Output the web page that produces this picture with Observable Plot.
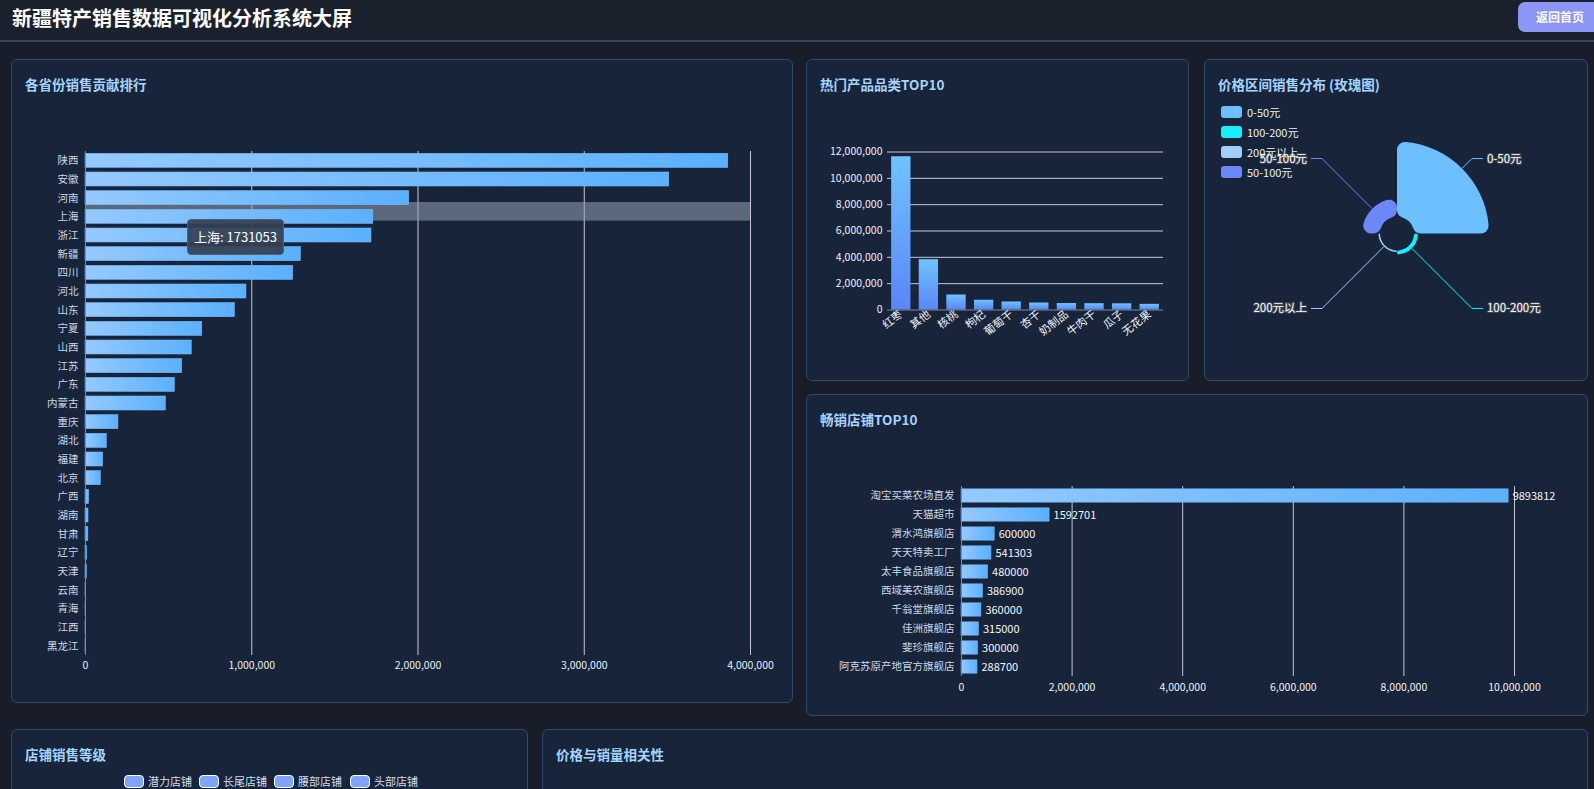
<!DOCTYPE html>
<html>
<head>
<meta charset="utf-8">
<script src="https://cdn.jsdelivr.net/npm/d3@7"></script>
<script src="https://cdn.jsdelivr.net/npm/@observablehq/plot@0.6"></script>
<style>
html,body{margin:0;padding:0;width:1594px;height:789px;overflow:hidden;background:#181d29;font-family:"Noto Sans CJK SC","Noto Sans",sans-serif;}
.header{position:absolute;left:0;top:0;width:1594px;height:40px;background:#1b202d;border-bottom:2px solid #34445a;}
.title{position:absolute;left:12px;top:4px;font-size:20px;font-weight:700;color:#fff;line-height:28px;white-space:nowrap;}
.btn{position:absolute;left:1518px;top:2px;width:90px;height:30px;border-radius:7px;background:#8d96f7;color:#fff;font-size:12px;font-weight:700;line-height:30px;padding-left:18px;box-sizing:border-box;}
.panel{position:absolute;background:#18243a;border:1px solid #35496a;border-radius:6px;box-sizing:border-box;}
.ptitle{position:absolute;left:13px;top:14px;font-size:13.5px;font-weight:700;color:#a6d4ff;line-height:20px;white-space:nowrap;}
.chart{position:absolute;}
.chart svg{display:block;overflow:visible;}
.leg{position:absolute;display:flex;align-items:center;font-size:11px;color:#eef3f8;white-space:nowrap;}
.leg i{display:inline-block;width:21px;height:12px;border-radius:3px;margin-right:5px;}
.leg2{position:absolute;display:flex;align-items:center;font-size:11px;color:#d2deec;white-space:nowrap;}
.leg2 i{display:inline-block;width:18px;height:11px;border-radius:4px;margin-right:4px;background:#7ea5fb;border:1.5px solid #fff;}
.tip{position:absolute;background:rgba(52,64,82,0.92);border:1px solid #4f5f76;border-radius:4px;color:#fff;font-size:13px;text-align:center;box-sizing:border-box;}
</style>
</head>
<body>
<div class="header"><div class="title">新疆特产销售数据可视化分析系统大屏</div><div class="btn">返回首页</div></div>

<div class="panel" style="left:11px;top:59px;width:782px;height:644px;"><div class="ptitle">各省份销售贡献排行</div></div>
<div class="panel" style="left:806px;top:59px;width:383px;height:322px;"><div class="ptitle">热门产品品类TOP10</div></div>
<div class="panel" style="left:1204px;top:59px;width:384px;height:322px;"><div class="ptitle">价格区间销售分布 (玫瑰图)</div></div>
<div class="panel" style="left:806px;top:394px;width:782px;height:322px;"><div class="ptitle">畅销店铺TOP10</div></div>
<div class="panel" style="left:11px;top:729px;width:517px;height:120px;"><div class="ptitle">店铺销售等级</div></div>
<div class="panel" style="left:542px;top:729px;width:1046px;height:120px;"><div class="ptitle">价格与销量相关性</div></div>

<div id="c1" class="chart" style="left:12px;top:140px;"></div>
<div id="c2" class="chart" style="left:806px;top:130px;"></div>
<div id="c3" class="chart" style="left:1204px;top:95px;"></div>
<div id="c4" class="chart" style="left:806px;top:470px;"></div>
<div id="leg3"></div>
<div id="leg5"></div>
<div id="tip"></div>

<script>
// ---------- data ----------
const provinces = ["陕西","安徽","河南","上海","浙江","新疆","四川","河北","山东","宁夏","山西","江苏","广东","内蒙古","重庆","湖北","福建","北京","广西","湖南","甘肃","辽宁","天津","云南","青海","江西","黑龙江"];
const provinceSales = [3866000,3511000,1947000,1731053,1720000,1295000,1249000,968000,898000,702000,639000,581000,537000,483000,198000,128000,106000,92000,22000,18000,17000,10000,8000,4000,1500,800,400];
const provinceTicks = [0,1000000,2000000,3000000,4000000];
const tooltipProvince = "上海";

const products = ["红枣","其他","核桃","枸杞","葡萄干","杏干","奶制品","牛肉干","瓜子","无花果"];
const productSales = [11640000,3820000,1140000,740000,610000,530000,490000,480000,470000,430000];
const productTicks = [0,2000000,4000000,6000000,8000000,10000000,12000000];

const priceRanges = ["0-50元","100-200元","200元以上","50-100元"];
const priceSales = [15600000,830000,310000,3740000];
const priceColors = ["#6cc0ff","#19ecfb","#a2cdff","#6b88f6"];

const stores = ["淘宝买菜农场直发","天猫超市","渭水鸿旗舰店","天天特卖工厂","太丰食品旗舰店","西域美农旗舰店","千翁堂旗舰店","佳洲旗舰店","斐珍旗舰店","阿克苏原产地官方旗舰店"];
const storeSales = [9893812,1592701,600000,541303,480000,386900,360000,315000,300000,288700];
const storeTicks = [0,2000000,4000000,6000000,8000000,10000000];

const storeLevels = ["潜力店铺","长尾店铺","腰部店铺","头部店铺"];

// ---------- helpers ----------
const FONT = '"Noto Sans CJK SC","Noto Sans",sans-serif';
const fmt = d3.format(",");
function gradient(id, horizontal, stops) {
  return () => {
    const ns = "http://www.w3.org/2000/svg";
    const defs = document.createElementNS(ns, "defs");
    const g = document.createElementNS(ns, "linearGradient");
    g.setAttribute("id", id);
    g.setAttribute("x1", "0"); g.setAttribute("y1", "0");
    g.setAttribute("x2", horizontal ? "1" : "0"); g.setAttribute("y2", horizontal ? "0" : "1");
    stops.forEach(([o, c]) => {
      const s = document.createElementNS(ns, "stop");
      s.setAttribute("offset", o); s.setAttribute("stop-color", c);
      g.appendChild(s);
    });
    defs.appendChild(g);
    return defs;
  };
}

// ---------- chart 1: provinces ----------
const provinceData = provinces.map((p, i) => ({name: p, value: provinceSales[i]}));
const hl = provinceData.filter(d => d.name === tooltipProvince);
document.getElementById("c1").appendChild(Plot.plot({
  width: 780, height: 550,
  marginLeft: 73, marginRight: 42, marginTop: 11, marginBottom: 35,
  style: {background: "transparent", color: "#cad8e8", fontSize: "10.5px", fontFamily: FONT},
  x: {domain: [0, 4000000], label: null},
  y: {domain: provinces, paddingInner: 0.25, paddingOuter: 0.125, round: false, label: null},
  marks: [
    gradient("gH1", true, [["0%", "#95c9ff"], ["100%", "#5bb0ff"]]),
    Plot.gridX(provinceTicks.slice(1), {stroke: "#d3dce7", strokeOpacity: 0.9}),
    Plot.barX(hl, {y: "name", x1: 0, x2: 4000000, fill: "#96a3b3", fillOpacity: 0.55, insetTop: -2.3, insetBottom: -2.3, dy: -5}),
    Plot.barX(provinceData, {y: "name", x: "value", fill: "url(#gH1)", stroke: "#74b9ff", strokeWidth: 0.6}),
    Plot.ruleX([0], {stroke: "#7d8b9d"}),
    Plot.axisY({tickSize: 0, tickPadding: 7, fill: "#cad8e8", label: null}),
    Plot.axisX(provinceTicks, {tickSize: 0, tickPadding: 6, tickFormat: fmt, fill: "#e8eef5", label: null})
  ]
}));
const tipD = hl[0];
const tip = document.getElementById("tip");
tip.className = "tip";
tip.style.cssText = "left:187px;top:219px;width:97px;height:36px;line-height:34px;";
tip.textContent = `${tipD.name}: ${tipD.value}`;

// ---------- chart 2: products ----------
const productData = products.map((p, i) => ({name: p, value: productSales[i]}));
document.getElementById("c2").appendChild(Plot.plot({
  width: 383, height: 220,
  marginLeft: 81, marginRight: 26, marginTop: 21.5, marginBottom: 40.5,
  style: {background: "transparent", color: "#e8eef5", fontSize: "10.5px", fontFamily: FONT},
  x: {domain: products, paddingInner: 0.3, paddingOuter: 0.15, round: false, label: null},
  y: {domain: [0, 12000000], label: null},
  marks: [
    gradient("gV2", false, [["0%", "#6fc3ff"], ["100%", "#5a86f6"]]),
    Plot.gridY(productTicks.slice(1), {stroke: "#d3dce7", strokeOpacity: 0.9}),
    Plot.barY(productData, {x: "name", y: "value", fill: "url(#gV2)"}),
    Plot.ruleY([0], {stroke: "#7d8b9d"}),
    Plot.axisY(productTicks, {tickSize: 0, tickPadding: 5, tickFormat: fmt, fill: "#eef3f8", label: null}),
    Plot.axisX({tickSize: 0, tickPadding: 3, tickRotate: -38, fill: "#eef3f8", fontSize: 11, label: null})
  ]
}));

// ---------- chart 3: rose ----------
const priceData = priceRanges.map((p, i) => ({name: p, value: priceSales[i], color: priceColors[i], i}));
const rosePlot = Plot.plot({
  width: 384, height: 280, margin: 0,
  style: {background: "transparent", fontFamily: FONT},
  x: {domain: [-193, 191], axis: null},
  y: {domain: [-141.5, 138.5], axis: null},
  r: {type: "linear", domain: [0, d3.max(priceSales)], range: [17, 92]},
  marks: [
    Plot.dot(priceData, {
      x: () => 0, y: () => 0, r: "value",
      render(index, scales, values) {
        const g = d3.create("svg:g");
        const n = priceData.length, step = 2 * Math.PI / n;
        for (const i of index) {
          const cx = values.x[i], cy = values.y[i], r = values.r[i];
          const d = priceData[i];
          const a0 = i * step, a1 = (i + 1) * step, am = (a0 + a1) / 2;
          const arc = d3.arc().innerRadius(17).outerRadius(r).startAngle(a0).endAngle(a1).cornerRadius(8);
          g.append("path").attr("d", arc()).attr("transform", `translate(${cx},${cy})`).attr("fill", d.color);
          const sx = cx + r * Math.sin(am), sy = cy - r * Math.cos(am);
          const ex = cx + 106 * Math.sin(am), ey = cy - 106 * Math.cos(am);
          const side = Math.sin(am) >= 0 ? 1 : -1;
          const hx = ex + side * 11;
          g.append("polyline").attr("points", `${sx},${sy} ${ex},${ey} ${hx},${ey}`)
            .attr("fill", "none").attr("stroke", d.color).attr("stroke-width", 1);
          g.append("text").attr("x", hx + side * 4).attr("y", ey).attr("dy", "0.35em")
            .attr("text-anchor", side > 0 ? "start" : "end")
            .attr("font-size", 11.5).attr("fill", "#fff").attr("stroke", "#404650")
            .attr("stroke-width", 2.2).attr("paint-order", "stroke").attr("stroke-linejoin", "round")
            .text(d.name);
        }
        return g.node();
      }
    })
  ]
});
document.getElementById("c3").appendChild(rosePlot);
const leg3 = document.getElementById("leg3");
priceData.forEach((d, k) => {
  const el = document.createElement("div");
  el.className = "leg";
  el.style.left = "1221px";
  el.style.top = (104 + k * 20) + "px";
  el.innerHTML = `<i style="background:${d.color}"></i><span></span>`;
  el.querySelector("span").textContent = d.name;
  leg3.appendChild(el);
});

// ---------- chart 4: stores ----------
const storeData = stores.map((s, i) => ({name: s, value: storeSales[i]}));
document.getElementById("c4").appendChild(Plot.plot({
  width: 782, height: 230,
  marginLeft: 155, marginRight: 74, marginTop: 16, marginBottom: 24,
  style: {background: "transparent", color: "#cad8e8", fontSize: "10.5px", fontFamily: FONT},
  x: {domain: [0, 10000000], label: null},
  y: {domain: stores, paddingInner: 0.3, paddingOuter: 0.15, round: false, label: null},
  marks: [
    gradient("gH4", true, [["0%", "#95c9ff"], ["100%", "#5bb0ff"]]),
    Plot.gridX(storeTicks.slice(1), {stroke: "#d3dce7", strokeOpacity: 0.9}),
    Plot.barX(storeData, {y: "name", x: "value", fill: "url(#gH4)", stroke: "#74b9ff", strokeWidth: 0.6}),
    Plot.text(storeData, {y: "name", x: "value", text: d => String(d.value), dx: 4, textAnchor: "start", fill: "#f2f6fa", fontSize: 11}),
    Plot.ruleX([0], {stroke: "#7d8b9d"}),
    Plot.axisY({tickSize: 0, tickPadding: 7, fill: "#cad8e8", label: null}),
    Plot.axisX(storeTicks, {tickSize: 0, tickPadding: 7, tickFormat: fmt, fill: "#eef3f8", label: null})
  ]
}));

// ---------- bottom legend ----------
const leg5 = document.getElementById("leg5");
const legX = [124, 199, 274, 350];
storeLevels.forEach((s, k) => {
  const el = document.createElement("div");
  el.className = "leg2";
  el.style.left = legX[k] + "px";
  el.style.top = "773px";
  el.innerHTML = `<i></i><span></span>`;
  el.querySelector("span").textContent = s;
  leg5.appendChild(el);
});
</script>
</body>
</html>
